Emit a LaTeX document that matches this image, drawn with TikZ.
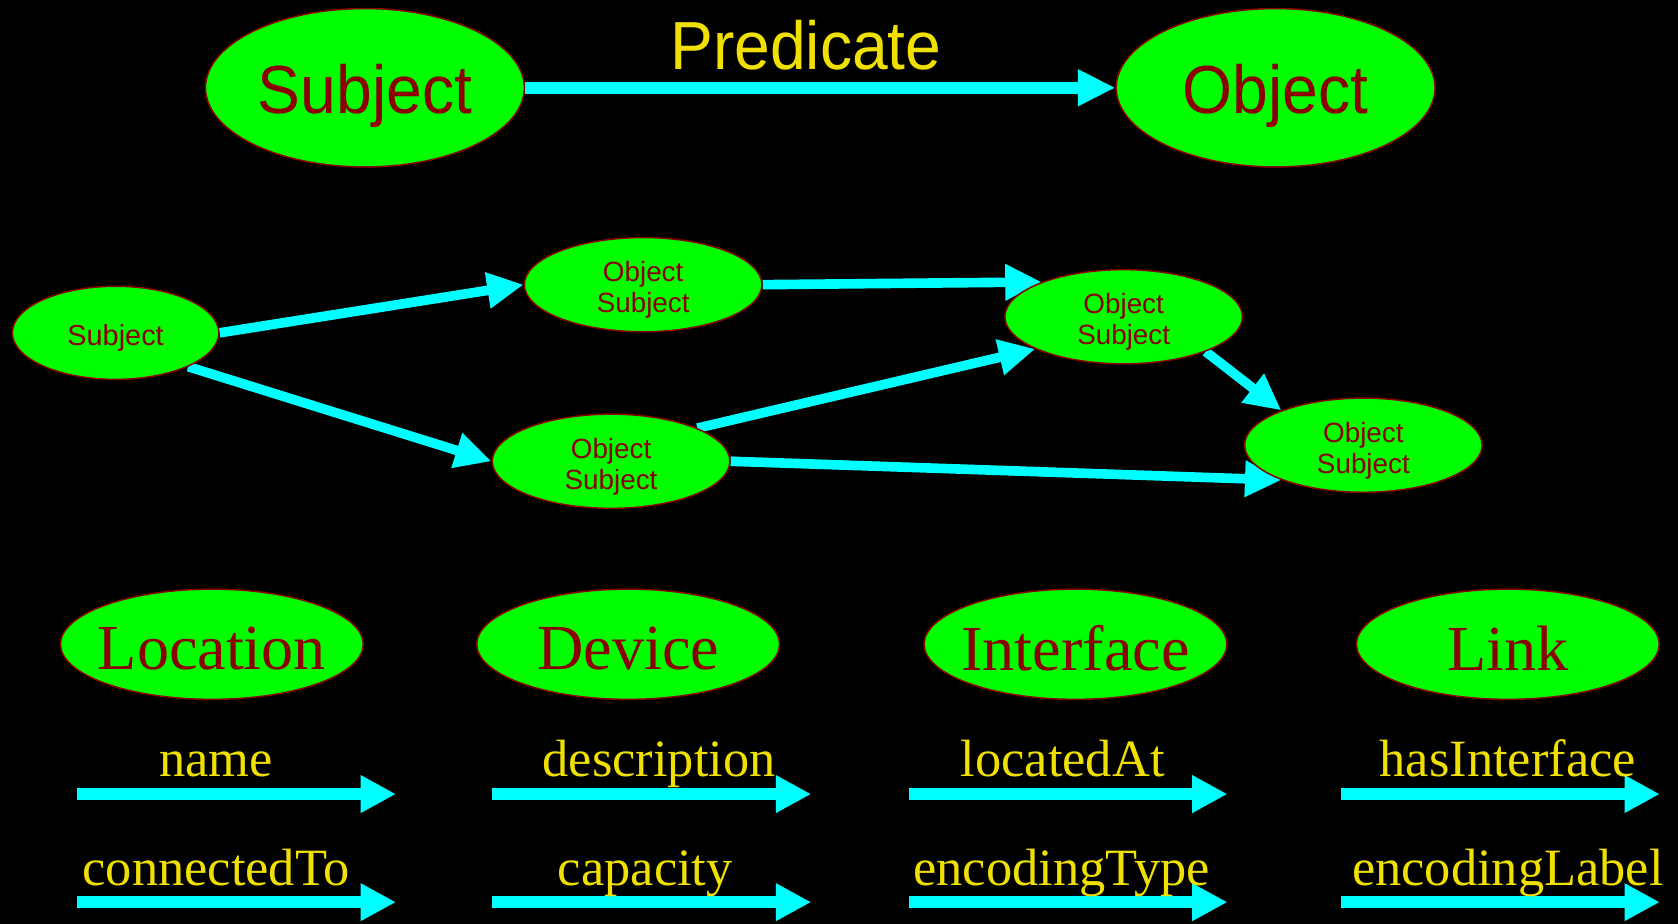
\documentclass[tikz,border=0pt]{standalone}
\usepackage{fontspec}
\setmainfont{Liberation Serif}
\newfontfamily\arialf{Liberation Sans}
\usetikzlibrary{shapes.geometric,arrows.meta}
\pgfdeclarelayer{bg}
\pgfsetlayers{bg,main}
\definecolor{ngreen}{RGB}{0,255,0}
\definecolor{dred}{RGB}{139,0,0}
\definecolor{ncyan}{RGB}{0,255,255}
\definecolor{nyellow}{RGB}{240,224,0}
\newcommand\lowerby[2]{\raisebox{-#1}[\height][\depth]{#2}}
\begin{document}
\begin{tikzpicture}[x=0.5pt,y=-0.5pt,
  ell/.style={ellipse, fill=ngreen, draw=dred, line width=0.7pt, inner sep=0pt, text=dred},
  bigell/.style={ell, minimum width=149pt, minimum height=74pt, font=\arialf\fontsize{30}{36}\selectfont},
  midell/.style={ell, minimum width=111pt, minimum height=44pt, align=center, font=\arialf\fontsize{13}{15}\selectfont},
  clsell/.style={ell, minimum width=141.5pt, minimum height=51.5pt, font=\fontsize{30}{36}\selectfont},
  topconn/.style={color=ncyan, line width=5.5pt, -{Triangle[length=17.5pt,width=16pt]}},
  midconn/.style={color=ncyan, line width=4.5pt, -{Triangle[length=17pt,width=16pt]}},
  propconn/.style={color=ncyan, line width=5.5pt, -{Triangle[length=16.5pt,width=16.5pt]}},
  lbl/.style={text=nyellow, font=\fontsize{24.5}{28}\selectfont, anchor=base, inner sep=0pt}
]
\begin{pgfonlayer}{bg}
\fill[black] (0,0) rectangle (1568,863.4);
\end{pgfonlayer}
\useasboundingbox (0,0) rectangle (1568,863.4);

% top triple
\node[bigell] (subj) at (341,82) {\lowerby{4pt}{\scalebox{1}[1.06]{Subject}}};
\node[bigell] (obj) at (1192,82) {\lowerby{4pt}{\scalebox{1}[1.06]{Object}}};
\node[text=nyellow, font=\arialf\fontsize{30}{36}\selectfont, inner sep=0pt] (pred) at (753,42) {\scalebox{1}[1.06]{Predicate}};

% middle graph
\node[midell, minimum width=96.5pt, minimum height=43.5pt, font=\arialf\fontsize{13.5}{16}\selectfont] (s0) at (108,311) {\lowerby{2.5pt}{Subject}};
\node[midell] (na) at (601,266) {\lowerby{2.5pt}{\shortstack{Object\\[-0.5pt]Subject}}};
\node[midell] (nb) at (1050,296) {\lowerby{2.5pt}{\shortstack{Object\\[-0.5pt]Subject}}};
\node[midell] (nc) at (571,431) {\lowerby{2.5pt}{\shortstack{Object\\[-0.5pt]Subject}}};
\node[midell] (nd) at (1274,416) {\lowerby{2.5pt}{\shortstack{Object\\[-0.5pt]Subject}}};

% classes
\node[clsell] (loc) at (198,602) {\makebox[0pt]{\lowerby{2pt}{Location}}};
\node[clsell] (dev) at (587,602) {\makebox[0pt]{\lowerby{2pt}{Device}}};
\node[clsell] (ifc) at (1005,602) {\makebox[0pt]{\lowerby{2pt}{Interface}}};
\node[clsell] (lnk) at (1409,602) {\makebox[0pt]{\lowerby{2pt}{Link}}};

% property arrows end points
\coordinate (p1a) at (72,742);   \coordinate (p1b) at (370,742);
\coordinate (p2a) at (460,742);  \coordinate (p2b) at (758,742);
\coordinate (p3a) at (849,742);  \coordinate (p3b) at (1147,742);
\coordinate (p4a) at (1253,742); \coordinate (p4b) at (1551,742);
\coordinate (q1a) at (72,843);   \coordinate (q1b) at (370,843);
\coordinate (q2a) at (460,843);  \coordinate (q2b) at (758,843);
\coordinate (q3a) at (849,843);  \coordinate (q3b) at (1147,843);
\coordinate (q4a) at (1253,843); \coordinate (q4b) at (1551,843);

\begin{pgfonlayer}{bg}
\draw[topconn] (subj.east) -- (obj.west);
\draw[midconn] (s0.east) -- (na.west);
\draw[midconn] (s0.335) -- (nc.west);
\draw[midconn] (na.east) -- (nb.157);
\draw[midconn] (nc.21) -- (nb.200);
\draw[midconn] (nc.east) -- (nd.203);
\draw[midconn] (nb.337) -- (nd.157);
\foreach \r in {p,q}{
  \foreach \c in {1,2,3,4}{
    \draw[propconn] (\r\c a) -- (\r\c b);
  }
}
\end{pgfonlayer}

\node[lbl] (l1) at (202,726) {name};
\node[lbl] (l2) at (616,726) {description};
\node[lbl] (l3) at (993,726) {locatedAt};
\node[lbl] (l4) at (1409,726) {hasInterface};
\node[lbl] (m1) at (202,827) {connectedTo};
\node[lbl] (m2) at (603,827) {capacity};
\node[lbl] (m3) at (992,827) {encodingType};
\node[lbl] (m4) at (1409,827) {encodingLabel};
\end{tikzpicture}
\end{document}
